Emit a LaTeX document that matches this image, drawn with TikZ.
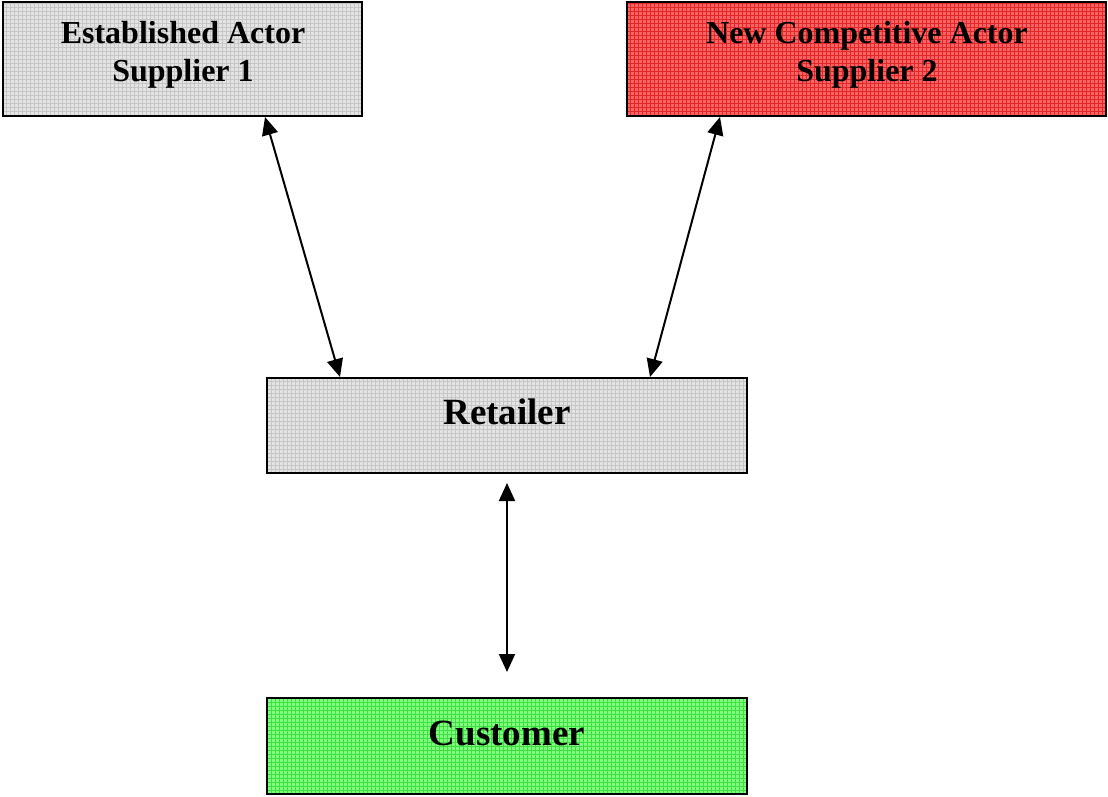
\documentclass[tikz,border=0pt]{standalone}
\usepackage{fontspec}
\setmainfont{Liberation Serif}
\usetikzlibrary{arrows.meta}
\definecolor{grayfill}{RGB}{228,228,228}
\definecolor{grayline}{RGB}{198,198,198}
\definecolor{redfill}{RGB}{250,100,100}
\definecolor{redline}{RGB}{225,40,40}
\definecolor{greenfill}{RGB}{130,255,130}
\definecolor{greenline}{RGB}{60,225,60}
\tikzset{
  box/.style={draw=black, line width=2pt, inner sep=0pt, rectangle},
  gridfill/.style 2 args={fill=#1, path picture={
      \draw[#2, line width=0.5pt, step=4pt]
        (path picture bounding box.south west) grid (path picture bounding box.north east);}},
  small/.style={font=\fontsize{32}{36}\selectfont\bfseries, inner sep=0pt, anchor=base},
  big/.style={font=\fontsize{37}{42}\selectfont\bfseries, inner sep=0pt, anchor=base},
  link/.style={line width=2pt, {Triangle[length=18pt,width=16pt]}-{Triangle[length=18pt,width=16pt]}}
}
\begin{document}
\begin{tikzpicture}[x=1pt,y=-1pt]
\useasboundingbox (0,0) rectangle (1108,796);
\node[box, gridfill={grayfill}{grayline}, minimum width=359pt, minimum height=114pt] (s1) at (182.5,59) {};
\node[box, gridfill={redfill}{redline}, minimum width=479pt, minimum height=114pt] (s2) at (866.5,59) {};
\node[box, gridfill={grayfill}{grayline}, minimum width=480pt, minimum height=95pt] (ret) at (507,425.5) {};
\node[box, gridfill={greenfill}{greenline}, minimum width=480pt, minimum height=96pt] (cust) at (507,746) {};
\node[small] (s1a) at (183,43) {Established Actor};
\node[small] (s1b) at (183,81) {Supplier 1};
\node[small] (s2a) at (867,43) {New Competitive Actor};
\node[small] (s2b) at (867,81) {Supplier 2};
\node[big] (rett) at (507,424) {Retailer};
\node[big] (custt) at (507,745) {Customer};
\coordinate (rtop) at ([yshift=-9pt]ret.south);
\coordinate (cbot) at ([yshift=25pt]cust.north);
\draw[link] ([xshift=82.5pt]s1.south) -- ([xshift=-167pt]ret.north);
\draw[link] ([xshift=-146.5pt]s2.south) -- ([xshift=143pt]ret.north);
\draw[link] (rtop) -- (cbot);
\end{tikzpicture}
\end{document}
